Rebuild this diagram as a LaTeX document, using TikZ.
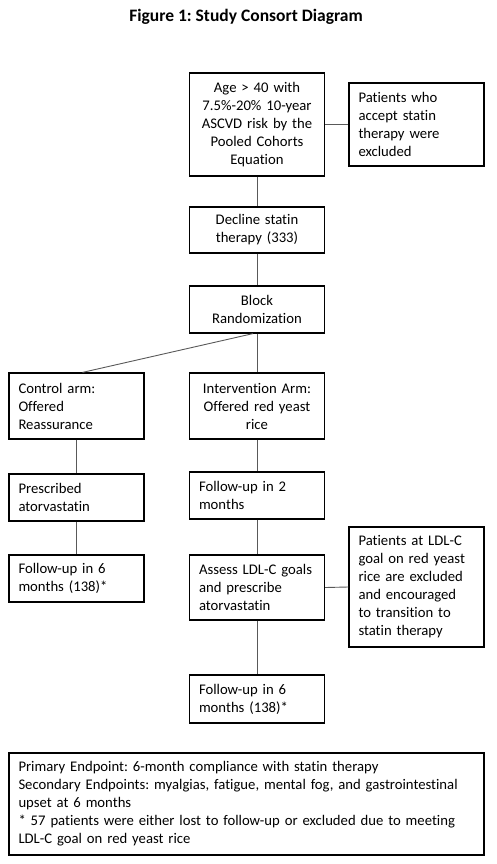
\documentclass[tikz,border=0pt]{standalone}
\usepackage{fontspec}
\setmainfont{Carlito}[Ligatures=NoCommon]
\frenchspacing

\begin{document}
\begin{tikzpicture}[x=1pt,y=-1pt,-]
  \tikzstyle{box}=[draw=black,line width=1.2pt,fill=white,inner xsep=9.5pt,inner ysep=0pt,
                   minimum width=135pt,text width=116pt,font=\fontsize{14.7}{18}\selectfont]
  \tikzstyle{link}=[draw=black!65,line width=0.9pt]

  \useasboundingbox (0,0) rectangle (496,864);

  \node[font=\bfseries\fontsize{17.5}{20}\selectfont] (title) at (246,17) {Figure 1: Study Consort Diagram};

  % main column
  \node[box,align=center,minimum height=103pt] (age) at (257,124.5)
    {Age > 40 with\\7.5\%-20\% 10-year\\ASCVD risk by the\\Pooled Cohorts\\Equation};
  \node[box,align=center,minimum height=46pt] (decline) at (257,230) {Decline statin\\therapy (333)};
  \node[box,align=center,minimum height=47pt] (block) at (257,309.5) {Block\\Randomization};
  \node[box,align=center,minimum height=66pt] (interv) at (257,406)
    {Intervention Arm:\\Offered red yeast\\rice};
  \node[box,align=left,minimum height=47pt] (fu2) at (257,495.5) {Follow-up in 2\\months};
  \node[box,align=left,minimum height=65pt] (assess) at (257,587.5)
    {\mbox{Assess LDL-C goals}\\and prescribe\\atorvastatin};
  \node[box,align=left,minimum height=48pt] (fuB) at (257,699) {Follow-up in 6\\months (138)*};

  % control arm
  \node[box,align=left,minimum height=66pt] (ctrl) at (76.5,406) {Control arm:\\Offered\\Reassurance};
  \node[box,align=left,minimum height=47pt] (presc) at (76.5,497.5) {Prescribed\\atorvastatin};
  \node[box,align=left,minimum height=47pt] (fuL) at (76.5,578.5) {Follow-up in 6\\months (138)*};

  % exclusions
  \node[box,align=left,minimum height=83pt] (excl1) at (416.5,124.5)
    {Patients who\\accept statin\\therapy were\\excluded};
  \node[box,align=left,minimum height=120pt] (excl2) at (416.5,587)
    {Patients at LDL-C\\goal on red yeast\\rice are excluded\\and encouraged\\to transition to\\statin therapy};

  % endpoints
  \node[box,align=left,minimum width=475pt,text width=456pt,minimum height=102pt] (note) at (246.5,804)
    {Primary Endpoint: 6-month compliance with statin therapy\\
     Secondary Endpoints: myalgias, fatigue, mental fog, and gastrointestinal\\
     upset at 6 months\\\relax
     * 57 patients were either lost to follow-up or excluded due to meeting\\
     LDL-C goal on red yeast rice};

  \foreach \from/\to in {age/decline,decline/block,block/interv,interv/fu2,
                         fu2/assess,assess/fuB,ctrl/presc,presc/fuL}
    \draw[link] (\from.south) -- (\to.north);

  \draw[link] ([xshift=-4pt]block.south) -- ([xshift=6pt]ctrl.north);
  \draw[link] (age.east) -- (excl1.west);
  \draw[link] (assess.east) -- (excl2.west);

\end{tikzpicture}
\end{document}
